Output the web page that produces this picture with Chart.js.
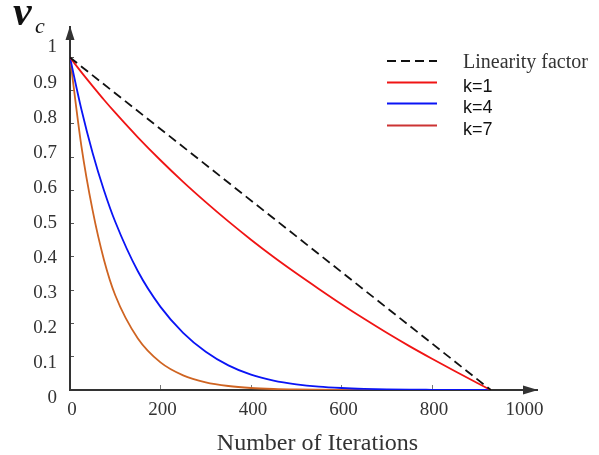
<!DOCTYPE html>
<html><head><meta charset="utf-8">
<script src="https://cdn.jsdelivr.net/npm/chart.js@4.4.1/dist/chart.umd.min.js"></script>
<style>html,body{margin:0;padding:0;background:#fff;} #wrap{width:599px;height:455px;position:relative;}</style>
</head><body><div id="wrap"><canvas id="c"></canvas></div>
<script>
// ---- data ----
const iterations = [0, 25, 50, 75, 100, 150, 200, 250, 300, 350, 400, 450, 500, 550, 600, 650, 700, 750, 800, 850, 900, 930];
const linearX = [0, 930];
const linearY = [1, 0];
const k1 = [1.00, 0.956, 0.914, 0.873, 0.834, 0.760, 0.691, 0.626, 0.565, 0.507, 0.452, 0.400, 0.351, 0.304, 0.258, 0.214, 0.172, 0.132, 0.094, 0.057, 0.021, 0];
const k4 = [1.00, 0.845, 0.713, 0.601, 0.506, 0.357, 0.250, 0.172, 0.115, 0.074, 0.046, 0.028, 0.017, 0.010, 0.006, 0.0035, 0.002, 0.001, 0.0006, 0.0003, 0.0001, 0];
const k7 = [1.00, 0.735, 0.54, 0.392, 0.285, 0.155, 0.083, 0.044, 0.023, 0.012, 0.006, 0.003, 0.0015, 0.0008, 0.0004, 0.0002, 0.0001, 0.0001, 0, 0, 0, 0];
const seriesLabels = ['Linearity factor', 'k=1', 'k=4', 'k=7'];
const xTickValues = [0, 200, 400, 600, 800, 1000];
const yTickValues = [0.1, 0.2, 0.3, 0.4, 0.5, 0.6, 0.7, 0.8, 0.9, 1.0];
const yLabelValues = [0, 0.1, 0.2, 0.3, 0.4, 0.5, 0.6, 0.7, 0.8, 0.9, 1];
const xTitle = 'Number of Iterations';
const yTitleMain = 'v';
const yTitleSub = 'c';

const pts = (xs, ys) => xs.map((x, i) => ({x: x, y: ys[i]}));

const decor = {
  id: 'decor',
  afterDraw(chart) {
    const ctx = chart.ctx, a = chart.chartArea;
    ctx.save();
    ctx.fillStyle = '#333';
    // axis arrows
    ctx.beginPath();
    ctx.moveTo(a.left, a.top - 1);
    ctx.lineTo(a.left - 4.5, a.top + 13);
    ctx.lineTo(a.left + 4.5, a.top + 13);
    ctx.closePath(); ctx.fill();
    ctx.beginPath();
    ctx.moveTo(a.right + 1, a.bottom);
    ctx.lineTo(a.right - 14, a.bottom - 4.5);
    ctx.lineTo(a.right - 14, a.bottom + 4.5);
    ctx.closePath(); ctx.fill();
    // y title v_c
    ctx.fillStyle = '#111';
    ctx.textAlign = 'left'; ctx.textBaseline = 'alphabetic';
    ctx.font = 'bold italic 42px "Liberation Serif"';
    ctx.fillText(yTitleMain, 13, 25);
    ctx.font = 'italic 22px "Liberation Serif"';
    ctx.fillText(yTitleSub, 35, 33);
    // x title
    ctx.fillStyle = '#333';
    ctx.textAlign = 'center';
    ctx.font = '24px "Liberation Serif"';
    ctx.fillText(xTitle, 317.5, 450);
    // legend
    const rowsLine = [61, 82.5, 103.5, 125.5];
    const rowsText = [68, 91.5, 113, 135];
    ctx.textAlign = 'left';
    chart.data.datasets.forEach((ds, i) => {
      ctx.save();
      ctx.strokeStyle = ds.legendColor || ds.borderColor;
      ctx.lineWidth = 1.8;
      ctx.setLineDash(ds.borderDash || []);
      ctx.beginPath();
      ctx.moveTo(387, rowsLine[i]); ctx.lineTo(437, rowsLine[i]);
      ctx.stroke();
      ctx.restore();
      if (i === 0) { ctx.font = '20px "Liberation Serif"'; ctx.fillStyle = '#333'; }
      else { ctx.font = '18px "Liberation Sans"'; ctx.fillStyle = '#111'; }
      ctx.fillText(ds.label, 463, rowsText[i]);
    });
    ctx.restore();
  }
};

new Chart(document.getElementById('c'), {
  type: 'line',
  data: {
    datasets: [
      {label: seriesLabels[0], data: pts(linearX, linearY), borderColor: '#111', borderDash: [9, 5], borderWidth: 1.8, pointRadius: 0, xAxisID: 'x', yAxisID: 'y'},
      {label: seriesLabels[1], data: pts(iterations, k1), borderColor: '#f01414', borderWidth: 1.8, pointRadius: 0, cubicInterpolationMode: 'monotone', xAxisID: 'x', yAxisID: 'y'},
      {label: seriesLabels[2], data: pts(iterations, k4), borderColor: '#0a14f5', borderWidth: 1.8, pointRadius: 0, cubicInterpolationMode: 'monotone', xAxisID: 'x', yAxisID: 'y'},
      {label: seriesLabels[3], data: pts(iterations, k7), borderColor: '#cf6422', legendColor: '#cc3333', borderWidth: 1.8, pointRadius: 0, cubicInterpolationMode: 'monotone', xAxisID: 'x', yAxisID: 'y'}
    ]
  },
  options: {
    responsive: true, maintainAspectRatio: false, animation: false, devicePixelRatio: 1,
    layout: {padding: {top: 27, right: 62, left: 0, bottom: 0}},
    plugins: {legend: {display: false}, tooltip: {enabled: false}},
    scales: {
      x: {
        type: 'linear', position: 'bottom', min: 0, max: 1032,
        afterBuildTicks: s => { s.ticks = xTickValues.map(v => ({value: v})); },
        afterFit: s => { s.height = 65; },
        grid: {display: true, drawOnChartArea: false, drawTicks: true, tickLength: -5,
               color: c => (c.tick && (c.tick.value === 0 || c.tick.value === 1000)) ? 'rgba(0,0,0,0)' : '#777'},
        border: {display: true, color: '#333', width: 2},
        ticks: {font: {family: 'Liberation Serif', size: 19}, color: '#333', padding: 14, maxRotation: 0, autoSkip: false, labelOffset: 2,
                callback: v => String(v)}
      },
      y: {
        type: 'linear', position: 'left', weight: 0, min: 0, max: 1.0917,
        afterBuildTicks: s => { s.ticks = yTickValues.map(v => ({value: v})); },
        afterFit: s => { s.width = 0; },
        ticks: {display: false},
        grid: {display: true, drawOnChartArea: false, drawTicks: true, tickLength: -4, color: '#555'},
        border: {display: true, color: '#333', width: 2}
      },
      yl: {
        type: 'linear', position: 'left', weight: 1, min: 0.0228, max: 1.0585,
        afterBuildTicks: s => { s.ticks = yLabelValues.map(v => ({value: v})); },
        afterFit: s => { s.width = 70; },
        grid: {display: false, drawTicks: false},
        border: {display: false},
        ticks: {font: {family: 'Liberation Serif', size: 19}, color: '#333', padding: 13, autoSkip: false,
                callback: v => String(v)}
      }
    }
  },
  plugins: [decor]
});
</script>
</body></html>
